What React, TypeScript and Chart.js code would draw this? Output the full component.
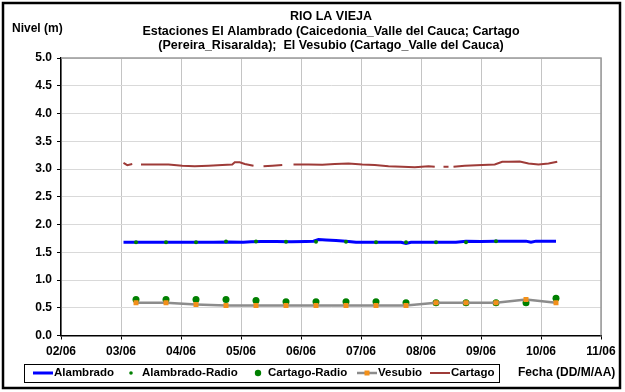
import React, { useEffect, useRef } from "react";
import { Chart, registerables } from "chart.js";

Chart.register(...registerables);

const FONT = "'Liberation Sans', Arial, sans-serif";

// ---- text ----
const titleLines = [
  "RIO LA VIEJA",
  "Estaciones El Alambrado (Caicedonia_Valle del Cauca; Cartago",
  "(Pereira_Risaralda);  El Vesubio (Cartago_Valle del Cauca)",
];
const yAxisTitle = "Nivel (m)";
const xAxisTitle = "Fecha (DD/M/AA)";
const xTickLabels = ["02/06", "03/06", "04/06", "05/06", "06/06", "07/06", "08/06", "09/06", "10/06", "11/06"];
const seriesNames = ["Alambrado", "Alambrado-Radio", "Cartago-Radio", "Vesubio", "Cartago"];

// ---- data (x = hours since 02/06 00:00) ----
const alambradoHours = [25, 31, 37, 43, 49, 55, 61, 67, 73, 76, 80, 86, 92, 98, 101, 103, 106, 110, 114, 118, 124, 130, 136, 138, 140, 146, 152, 158, 162, 168, 174, 180, 186, 188, 190, 194, 198];
const alambradoLevels = [1.68, 1.68, 1.68, 1.68, 1.68, 1.68, 1.68, 1.685, 1.68, 1.69, 1.695, 1.695, 1.69, 1.695, 1.70, 1.73, 1.72, 1.71, 1.70, 1.68, 1.68, 1.68, 1.68, 1.66, 1.68, 1.68, 1.68, 1.68, 1.70, 1.695, 1.70, 1.70, 1.70, 1.68, 1.70, 1.70, 1.70];

const alambradoRadioHours = [30, 42, 54, 66, 78, 90, 102, 114, 126, 138, 150, 162, 174];
const alambradoRadioLevels = [1.68, 1.68, 1.68, 1.695, 1.695, 1.69, 1.69, 1.69, 1.68, 1.68, 1.68, 1.68, 1.70];

const cartagoRadioHours = [30, 42, 54, 66, 78, 90, 102, 114, 126, 138, 150, 162, 174, 186, 198];
const cartagoRadioLevels = [0.65, 0.65, 0.65, 0.65, 0.63, 0.61, 0.61, 0.61, 0.61, 0.59, 0.59, 0.59, 0.59, 0.59, 0.67];

const vesubioHours = [30, 42, 54, 66, 78, 90, 102, 114, 126, 138, 150, 162, 174, 186, 198];
const vesubioLevels = [0.59, 0.59, 0.56, 0.54, 0.54, 0.54, 0.54, 0.54, 0.54, 0.54, 0.59, 0.59, 0.59, 0.65, 0.59];

const cartagoHours = [25, 26.5, 28.5, 30, 32, 37.5, 43, 48.5, 53.5, 59, 64.5, 68.5, 69.5, 71.5, 73.5, 77, 78, 81, 84.5, 88.5, 90, 93, 99, 104.5, 109.5, 115, 120.5, 125.5, 131, 136.5, 141.5, 147, 149.5, 151, 153, 155, 156, 157, 161.5, 168.5, 173.5, 176.5, 179, 183.5, 187, 191, 195, 198.5];
const cartagoLevels = [3.11, 3.07, 3.09, null, 3.08, 3.08, 3.08, 3.06, 3.05, 3.06, 3.07, 3.08, 3.12, 3.12, 3.09, 3.06, null, 3.05, 3.06, 3.07, null, 3.08, 3.08, 3.075, 3.09, 3.10, 3.08, 3.07, 3.05, 3.04, 3.03, 3.05, 3.04, null, 3.04, 3.04, null, 3.04, 3.06, 3.07, 3.08, 3.13, 3.13, 3.135, 3.10, 3.08, 3.10, 3.13];

const Y_MIN = 0;
const Y_MAX = 5;
const Y_STEP = 0.5;
const X_MIN = 0;
const X_MAX = 216;
const X_STEP = 24;

const COLORS = {
  blue: "#0000FF",
  green: "#008000",
  gray: "#8C8C8C",
  orange: "#F39019",
  brown: "#9E3B38",
};

function pts(xs: number[], ys: (number | null)[]) {
  return xs.map((x, i) => ({ x, y: ys[i] }));
}

const decorPlugin = {
  id: "decor",
  beforeDraw(chart: any) {
    const ctx = chart.ctx;
    ctx.save();
    ctx.fillStyle = "#FFFFFF";
    ctx.fillRect(0, 0, chart.width, chart.height);
    ctx.restore();
  },
  beforeDatasetsDraw(chart: any) {
    const { ctx, chartArea } = chart;
    ctx.save();
    ctx.strokeStyle = "#999999";
    ctx.lineWidth = 1.5;
    ctx.beginPath();
    ctx.moveTo(chartArea.left, chartArea.top);
    ctx.lineTo(chartArea.right, chartArea.top);
    ctx.lineTo(chartArea.right, chartArea.bottom);
    ctx.stroke();
    ctx.restore();
  },
  afterDraw(chart: any) {
    const { ctx, chartArea } = chart;
    ctx.save();
    // outer frame
    ctx.strokeStyle = "#000000";
    ctx.lineWidth = 2.5;
    ctx.strokeRect(3, 3, 617, 385);

    // titles
    ctx.fillStyle = "#000000";
    ctx.textBaseline = "middle";
    ctx.textAlign = "center";
    ctx.font = `bold 12.5px ${FONT}`;
    const cx = (chartArea.left + chartArea.right) / 2;
    const titleYs = [16.5, 32, 45.5];
    titleLines.forEach((t, i) => ctx.fillText(t, cx, titleYs[i]));

    ctx.textAlign = "left";
    ctx.font = `bold 12px ${FONT}`;
    ctx.fillText(yAxisTitle, 12, 29);
    ctx.fillText(xAxisTitle, 518, 373);

    // legend
    const ly = 373;
    ctx.strokeStyle = "#000000";
    ctx.lineWidth = 1;
    ctx.strokeRect(24.5, 364.5, 475, 18);
    ctx.font = `bold 11.5px ${FONT}`;

    // Alambrado
    ctx.strokeStyle = COLORS.blue;
    ctx.lineWidth = 3;
    ctx.beginPath();
    ctx.moveTo(33, ly);
    ctx.lineTo(53, ly);
    ctx.stroke();
    ctx.fillText(seriesNames[0], 54, ly);

    // Alambrado-Radio
    ctx.fillStyle = COLORS.green;
    ctx.beginPath();
    ctx.arc(131, ly, 1.8, 0, Math.PI * 2);
    ctx.fill();
    ctx.fillStyle = "#000";
    ctx.fillText(seriesNames[1], 142, ly);

    // Cartago-Radio
    ctx.fillStyle = COLORS.green;
    ctx.beginPath();
    ctx.arc(258, ly, 3.2, 0, Math.PI * 2);
    ctx.fill();
    ctx.fillStyle = "#000";
    ctx.fillText(seriesNames[2], 268, ly);

    // Vesubio
    ctx.strokeStyle = COLORS.gray;
    ctx.lineWidth = 2.5;
    ctx.beginPath();
    ctx.moveTo(357, ly);
    ctx.lineTo(377, ly);
    ctx.stroke();
    ctx.fillStyle = COLORS.orange;
    ctx.fillRect(364.5, ly - 2.5, 5, 5);
    ctx.fillStyle = "#000";
    ctx.fillText(seriesNames[3], 378, ly);

    // Cartago
    ctx.strokeStyle = COLORS.brown;
    ctx.lineWidth = 2;
    ctx.beginPath();
    ctx.moveTo(430, ly);
    ctx.lineTo(450, ly);
    ctx.stroke();
    ctx.fillText(seriesNames[4], 451, ly);

    ctx.restore();
  },
};

export default function App() {
  const canvasRef = useRef<HTMLCanvasElement | null>(null);

  useEffect(() => {
    document.body.style.margin = "0";
    const canvas = canvasRef.current;
    if (!canvas) return;
    const tickFont = { family: FONT, size: 12, weight: "bold" as const };

    const chart = new Chart(canvas, {
      type: "line",
      data: {
        datasets: [
          {
            label: seriesNames[0],
            data: pts(alambradoHours, alambradoLevels),
            borderColor: COLORS.blue,
            borderWidth: 3,
            pointRadius: 0,
            tension: 0,
            order: 5,
          },
          {
            label: seriesNames[1],
            data: pts(alambradoRadioHours, alambradoRadioLevels),
            showLine: false,
            pointRadius: 2,
            pointBackgroundColor: COLORS.green,
            pointBorderWidth: 0,
            borderColor: COLORS.green,
            order: 4,
          },
          {
            label: seriesNames[2],
            data: pts(cartagoRadioHours, cartagoRadioLevels),
            showLine: false,
            pointRadius: 3.5,
            pointBackgroundColor: COLORS.green,
            pointBorderWidth: 0,
            borderColor: COLORS.green,
            order: 3,
          },
          {
            label: seriesNames[3],
            data: pts(vesubioHours, vesubioLevels),
            borderColor: COLORS.gray,
            borderWidth: 2.5,
            pointStyle: "rect",
            pointRadius: 3.5,
            pointBackgroundColor: COLORS.orange,
            pointBorderColor: COLORS.orange,
            pointBorderWidth: 0,
            tension: 0,
            order: 2,
          },
          {
            label: seriesNames[4],
            data: pts(cartagoHours, cartagoLevels),
            borderColor: COLORS.brown,
            borderWidth: 2,
            pointRadius: 0,
            spanGaps: false,
            tension: 0,
            order: 1,
          },
        ],
      },
      options: {
        responsive: false,
        maintainAspectRatio: false,
        animation: false,
        events: [],
        layout: { padding: { left: 0, top: 58, right: 24, bottom: 0 } },
        plugins: {
          legend: { display: false },
          title: { display: false },
          tooltip: { enabled: false },
        },
        scales: {
          x: {
            type: "linear",
            min: X_MIN,
            max: X_MAX,
            ticks: {
              stepSize: X_STEP,
              autoSkip: false,
              maxRotation: 0,
              padding: 5,
              color: "#000",
              font: tickFont,
              callback: (v: any) => xTickLabels[Math.round(Number(v) / X_STEP)] ?? "",
            },
            grid: { color: "#C4C4C4", lineWidth: 1, tickColor: "#000", tickLength: 4 },
            border: { color: "#000", width: 1.5 },
            afterFit: (s: any) => {
              s.height = 56.5;
            },
          },
          y: {
            min: Y_MIN,
            max: Y_MAX,
            ticks: {
              stepSize: Y_STEP,
              padding: 5,
              color: "#000",
              font: tickFont,
              callback: (v: any) => Number(v).toFixed(1),
            },
            grid: { color: "#D9D9D9", lineWidth: 1, tickColor: "#000", tickLength: 4 },
            border: { color: "#000", width: 1.5 },
            afterFit: (s: any) => {
              s.width = 61;
            },
          },
        },
      },
      plugins: [decorPlugin],
    });
    return () => chart.destroy();
  }, []);

  return (
    <div style={{ width: 625, height: 392 }}>
      <canvas ref={canvasRef} width={625} height={392} style={{ display: "block", width: 625, height: 392 }} />
    </div>
  );
}
